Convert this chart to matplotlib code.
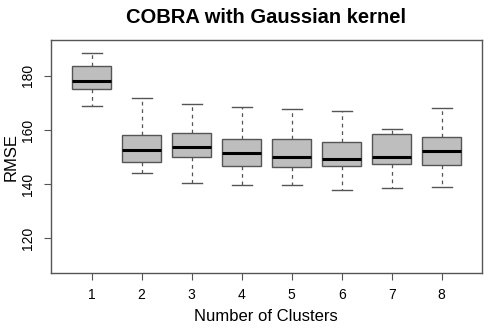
import matplotlib
matplotlib.use("Agg")
import matplotlib.pyplot as plt

plt.rcParams['font.family'] = ['Liberation Sans', 'DejaVu Sans']

# values
clusters = [1, 2, 3, 4, 5, 6, 7, 8]
whislo = [168.8, 144.2, 140.5, 139.7, 139.8, 137.7, 138.6, 139.0]
q1 = [175.2, 148.0, 150.1, 146.7, 146.3, 146.6, 147.3, 147.0]
med = [177.9, 152.6, 153.8, 151.5, 150.0, 149.3, 150.0, 152.1]
q3 = [183.5, 158.2, 159.0, 156.5, 156.5, 155.4, 158.6, 157.3]
whishi = [188.4, 171.8, 169.7, 168.3, 167.6, 167.1, 160.4, 168.1]

stats = []
for i in range(len(clusters)):
    stats.append(dict(label=str(clusters[i]), whislo=whislo[i], q1=q1[i], med=med[i],
                      q3=q3[i], whishi=whishi[i], fliers=[]))

fig = plt.figure(figsize=(4.95, 3.3), dpi=100)
ax = fig.add_axes([0.1024, 0.1727, 0.8707, 0.7061])

edge = '#555555'
ax.bxp(stats, positions=clusters, widths=0.79, patch_artist=True, showfliers=False,
       boxprops=dict(facecolor='#bebebe', edgecolor=edge, linewidth=1),
       medianprops=dict(color='black', linewidth=2.2),
       whiskerprops=dict(color=edge, linewidth=0.9, linestyle=(0, (3, 3))),
       capprops=dict(color=edge, linewidth=1),
       capwidths=0.4)

ax.set_xlim(0.18, 8.8)
ax.set_ylim(107.2, 193.2)
ax.set_yticks([120, 140, 160, 180])
ax.set_xticks(clusters)
ax.set_xticklabels([str(c) for c in clusters])
for lab in ax.get_yticklabels():
    lab.set_rotation(90)
    lab.set_va('center')
ax.tick_params(axis='both', labelsize=10, length=5, color=edge, pad=6)
for s in ax.spines.values():
    s.set_color(edge)
    s.set_linewidth(1)

ax.set_xlabel('Number of Clusters', fontsize=12)
ax.set_ylabel('RMSE', fontsize=12)
ax.yaxis.set_label_coords(-0.092, 0.5)
ax.xaxis.set_label_coords(0.5, -0.188)
ax.xaxis.label.set_va('center')
ax.yaxis.label.set_va('center')
fig.suptitle('COBRA with Gaussian kernel', fontsize=14.5, fontweight='bold', x=0.537, y=0.975)

fig.savefig('out.png', dpi=100)
